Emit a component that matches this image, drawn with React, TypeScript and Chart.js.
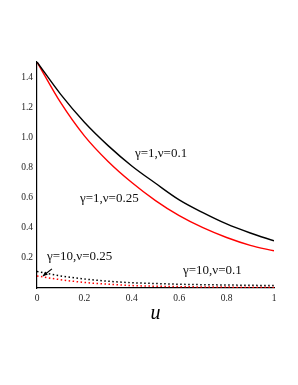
import React, { useEffect, useRef } from "react";
import { Chart, registerables } from "chart.js";

Chart.register(...registerables);

const uValues = [0, 0.1, 0.2, 0.3, 0.4, 0.5, 0.6, 0.7, 0.8, 0.9, 1.0];
const g1v01 = [1.5, 1.285, 1.1, 0.945, 0.81, 0.695, 0.585, 0.5, 0.425, 0.365, 0.313];
const g1v025 = [1.5, 1.23, 1.01, 0.84, 0.7, 0.58, 0.48, 0.4, 0.335, 0.283, 0.247];
const g10v01 = [0.11, 0.08, 0.06, 0.045, 0.035, 0.03, 0.025, 0.022, 0.02, 0.018, 0.016];
const g10v025 = [0.08, 0.055, 0.037, 0.025, 0.016, 0.012, 0.009, 0.007, 0.006, 0.005, 0.004];
const xTicks = [0, 0.2, 0.4, 0.6, 0.8, 1];
const yTicks = [0.2, 0.4, 0.6, 0.8, 1.0, 1.2, 1.4];

const labels = [
  { text: "γ=1,ν=0.1", u: 0.413, v: 0.893 },
  { text: "γ=1,ν=0.25", u: 0.181, v: 0.593 },
  { text: "γ=10,ν=0.25", u: 0.042, v: 0.207 },
  { text: "γ=10,ν=0.1", u: 0.616, v: 0.113 },
];
const arrow = { from: [0.063, 0.127], to: [0.025, 0.08] };

const pts = (ys: number[]) => uValues.map((u, i) => ({ x: u, y: ys[i] }));

export default function App() {
  const ref = useRef<HTMLCanvasElement | null>(null);
  useEffect(() => {
    document.body.style.margin = "0";
    const annot = {
      id: "annot",
      afterDatasetsDraw(chart: any) {
        const { ctx, scales } = chart;
        const xs = scales.x, ys = scales.y;
        ctx.save();
        ctx.fillStyle = "#111";
        ctx.font = "13px 'Liberation Serif'";
        ctx.textAlign = "left";
        ctx.textBaseline = "middle";
        labels.forEach((l) => {
          ctx.fillText(l.text, xs.getPixelForValue(l.u), ys.getPixelForValue(l.v));
        });
        const x1 = xs.getPixelForValue(arrow.from[0]);
        const y1 = ys.getPixelForValue(arrow.from[1]);
        const x2 = xs.getPixelForValue(arrow.to[0]);
        const y2 = ys.getPixelForValue(arrow.to[1]);
        ctx.strokeStyle = "#000";
        ctx.lineWidth = 1.2;
        ctx.beginPath();
        ctx.moveTo(x1, y1);
        ctx.lineTo(x2, y2);
        ctx.stroke();
        const ang = Math.atan2(y2 - y1, x2 - x1);
        const L = 5;
        ctx.fillStyle = "#000";
        ctx.beginPath();
        ctx.moveTo(x2, y2);
        ctx.lineTo(x2 - L * Math.cos(ang - 0.45), y2 - L * Math.sin(ang - 0.45));
        ctx.lineTo(x2 - L * Math.cos(ang + 0.45), y2 - L * Math.sin(ang + 0.45));
        ctx.closePath();
        ctx.fill();
        ctx.font = "italic 20px 'Liberation Serif'";
        ctx.textAlign = "center";
        ctx.fillText("u", (xs.left + xs.right) / 2, 314);
        ctx.restore();
      },
    };
    const chart = new Chart(ref.current!, {
      type: "line",
      data: {
        datasets: [
          { label: "γ=1,ν=0.1", data: pts(g1v01), borderColor: "#000", borderWidth: 1.4, pointRadius: 0, cubicInterpolationMode: "monotone" },
          { label: "γ=1,ν=0.25", data: pts(g1v025), borderColor: "#ff0000", borderWidth: 1.4, pointRadius: 0, cubicInterpolationMode: "monotone" },
          { label: "γ=10,ν=0.1", data: pts(g10v01), borderColor: "#000", borderWidth: 1.5, borderDash: [1.5, 2.5], pointRadius: 0, cubicInterpolationMode: "monotone" },
          { label: "γ=10,ν=0.25", data: pts(g10v025), borderColor: "#ff0000", borderWidth: 1.5, borderDash: [1.5, 2.5], pointRadius: 0, cubicInterpolationMode: "monotone" },
        ],
      } as any,
      options: {
        animation: false,
        responsive: false,
        parsing: false as any,
        layout: { padding: { top: 62, right: 24, left: 0, bottom: 0 } },
        plugins: { legend: { display: false }, tooltip: { enabled: false } },
        scales: {
          x: {
            type: "linear",
            min: 0,
            max: 1,
            afterBuildTicks: (s: any) => { s.ticks = xTicks.map((v) => ({ value: v })); },
            afterFit: (s: any) => { s.height = 97; },
            grid: { display: true, drawOnChartArea: false, drawTicks: false },
            border: { display: true, color: "#000", width: 1.2 },
            ticks: {
              color: "#222",
              padding: 5,
              maxRotation: 0,
              font: { family: "'Liberation Serif'", size: 9.5 },
              callback: (v: any) => String(Number(v)),
            },
          },
          y: {
            type: "linear",
            min: 0,
            max: 1.5,
            afterBuildTicks: (s: any) => { s.ticks = yTicks.map((v) => ({ value: v })); },
            afterFit: (s: any) => { s.width = 37; },
            grid: { display: true, drawOnChartArea: false, drawTicks: false },
            border: { display: true, color: "#000", width: 1.2 },
            ticks: {
              color: "#222",
              padding: 4,
              font: { family: "'Liberation Serif'", size: 9.5 },
              callback: (v: any) => Number(v).toFixed(1),
            },
          },
        },
      } as any,
      plugins: [annot],
    });
    return () => chart.destroy();
  }, []);
  return (
    <div style={{ position: "absolute", left: 0, top: 0, width: 298, height: 385, background: "#fff" }}>
      <canvas ref={ref} width={298} height={385} style={{ width: 298, height: 385, display: "block" }} />
    </div>
  );
}
